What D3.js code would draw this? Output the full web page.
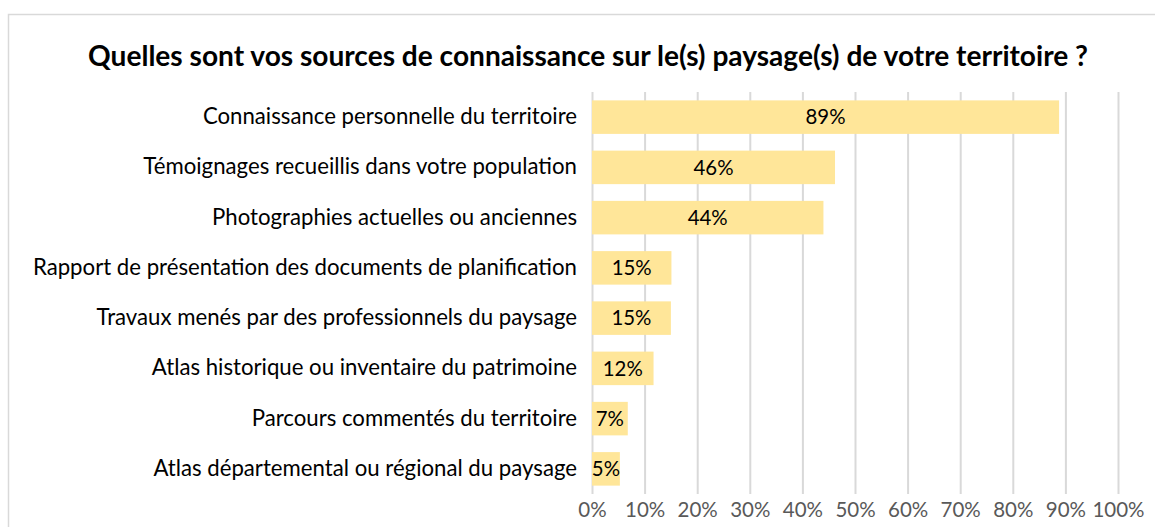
<!DOCTYPE html>
<html lang="fr">
<head>
  <meta charset="UTF-8">
  <title>Sources de connaissance</title>
  <style>
    html, body { margin: 0; padding: 0; background: #fff; }
    svg { display: block; font-family: Lato, "Open Sans", sans-serif; overflow: visible; }
  </style>
</head>
<body>
  <svg width="1155" height="527" viewBox="0 0 1155 527" class="svgs"></svg>
  <script src="https://d3js.org/d3.v7.min.js"></script>
  <script>
    const categories = [
      'Connaissance personnelle du territoire',
      'Témoignages recueillis dans votre population',
      'Photographies actuelles ou anciennes',
      'Rapport de présentation des documents de planification',
      'Travaux menés par des professionnels du paysage',
      'Atlas historique ou inventaire du patrimoine',
      'Parcours commentés du territoire',
      'Atlas départemental ou régional du paysage'
    ]
    const values = [88.8, 46.2, 44.0, 15.1, 15.0, 11.7, 6.8, 5.3]
    const ticks = [0, 10, 20, 30, 40, 50, 60, 70, 80, 90, 100]
    const title = 'Quelles sont vos sources de connaissance sur le(s) paysage(s) de votre territoire ?'

    const svg = d3.select('.svgs')
    const width = +svg.attr('width')
    const height = +svg.attr('height')

    // font size so that a sample string has the width seen in the picture
    function fitSize(str, target, weight) {
      const t = svg.append('text').attr('font-size', 100)
        .attr('font-weight', weight || 'normal').text(str)
      const w = t.node().getComputedTextLength()
      t.remove()
      return Math.round(1000 * target / w) / 10
    }
    const labelSize = fitSize(categories[3], 544)
    const titleSize = fitSize(title, 1000, 'bold')
    const tickSize = fitSize('100%', 52)
    const valSize = fitSize('89%', 40)

    // chart frame: only the top and left edges are in view
    svg.append('path')
      .attr('d', `M8.5,${height} V14.5 H${width}`)
      .attr('fill', 'none').attr('stroke', '#d9d9d9').attr('stroke-width', 1.5)

    const margin = { top: 92, left: 592, right: 37, bottom: 33 }
    const innerWidth = width - margin.left - margin.right
    const innerHeight = height - margin.top - margin.bottom

    const x = d3.scaleLinear().domain([0, 100]).range([0, innerWidth])
    const y = d3.scaleBand().domain(categories).range([0, innerHeight])
      .paddingInner(0.333).paddingOuter(0.1667)

    const g = svg.append('g').attr('transform', `translate(${margin.left}, ${margin.top})`)

    // gridlines + tick labels
    const xAxis = d3.axisBottom(x).tickValues(ticks).tickSize(-innerHeight)
      .tickFormat(d => d + '%').tickPadding(8)
    const ax = g.append('g').attr('transform', `translate(0, ${innerHeight})`).call(xAxis)
    ax.select('.domain').remove()
    ax.selectAll('.tick line').attr('stroke', '#d9d9d9').attr('stroke-width', 2)
    ax.selectAll('.tick text').attr('fill', '#595959').attr('font-size', tickSize)
      .attr('font-family', 'Lato, sans-serif')

    // bars
    g.selectAll('.bar').data(values).join('rect')
      .attr('class', 'bar')
      .attr('x', 0)
      .attr('y', (d, i) => y(categories[i]))
      .attr('width', d => x(d))
      .attr('height', y.bandwidth())
      .attr('fill', '#ffe699')

    // value labels
    g.selectAll('.val').data(values).join('text')
      .attr('class', 'val')
      .attr('x', d => x(d) / 2)
      .attr('y', (d, i) => y(categories[i]) + y.bandwidth() / 2)
      .attr('dy', '0.36em')
      .attr('text-anchor', 'middle')
      .attr('font-size', valSize)
      .attr('fill', '#000')
      .text(d => Math.round(d) + '%')

    // category labels
    const yAxis = d3.axisLeft(y).tickSize(0).tickPadding(15)
    const ay = g.append('g').call(yAxis)
    ay.select('.domain').remove()
    ay.selectAll('.tick text').attr('fill', '#000').attr('font-size', labelSize)
      .attr('font-family', 'Lato, sans-serif')

    svg.append('text')
      .attr('x', 588).attr('y', 66)
      .attr('text-anchor', 'middle')
      .attr('font-size', titleSize)
      .attr('font-weight', 'bold')
      .attr('fill', '#000')
      .text(title)
  </script>
</body>
</html>
